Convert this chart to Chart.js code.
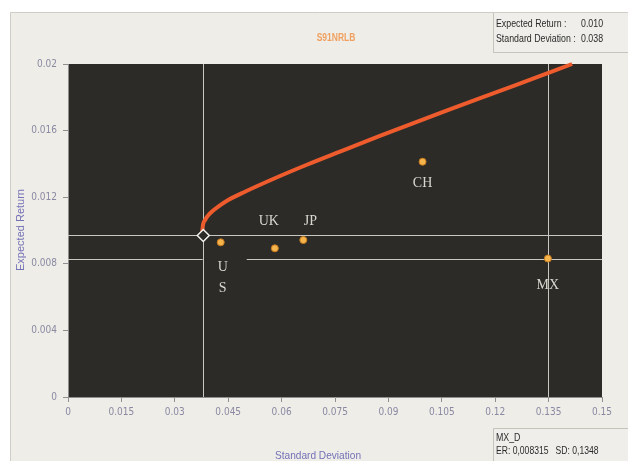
<!DOCTYPE html>
<html>
<head>
<meta charset="utf-8">
<script src="https://cdn.jsdelivr.net/npm/chart.js@4/dist/chart.umd.min.js"></script>
<style>
  html, body { margin: 0; padding: 0; background: #ffffff; }
  #wrap { width: 628px; height: 461px; }
</style>
</head>
<body>
<div id="wrap"><canvas id="c" width="628" height="461"></canvas></div>
<script>
// Efficient frontier (standard deviation vs expected return)
const frontierSD = [0.0377, 0.0378, 0.0385, 0.0399, 0.0422, 0.0450, 0.0497, 0.0581, 0.0671, 0.0764, 0.0876, 0.1065, 0.1250, 0.1416];
const frontierER = [0.00973, 0.01013, 0.01063, 0.01103, 0.01143, 0.01183, 0.01233, 0.01314, 0.01395, 0.01474, 0.01568, 0.01721, 0.01867, 0.0200];

// Individual markets
const countries = ['US', 'UK', 'JP', 'CH', 'MX'];
const countrySD = [0.0429, 0.0581, 0.0661, 0.0996, 0.1348];
const countryER = [0.00929, 0.00893, 0.00943, 0.01413, 0.008315];

// Selected portfolio on the frontier
const selectedSD = [0.038];
const selectedER = [0.0097];

// Selected series readout
const pickedName = 'MX_D';
const pickedIndex = 4;

// Axis ticks
const xTickValues = [0, 0.015, 0.03, 0.045, 0.06, 0.075, 0.09, 0.105, 0.12, 0.135, 0.15];
const xTickLabels = ['0', '0.015', '0.03', '0.045', '0.06', '0.075', '0.09', '0.105', '0.12', '0.135', '0.15'];
const yTickValues = [0, 0.004, 0.008, 0.012, 0.016, 0.02];
const yTickLabels = ['0', '0.004', '0.008', '0.012', '0.016', '0.02'];

const chartTitle = 'S91NRLB';

const PLOT_BG = '#2c2b27';
const CROSS = '#c9c8c0';
const tickFont = "'DejaVu Sans Condensed', 'Liberation Sans', sans-serif";
const uiFont = "'Liberation Sans', 'DejaVu Sans', sans-serif";

// label placement around each market point (pixels)
const labelOffsets = {
  US: { lines: [[2, 25], [2, 46]], backdrop: [-18, 12, 44, 43] },
  UK: { lines: [[-6, -27]] },
  JP: { lines: [[7, -19]] },
  CH: { lines: [[0, 22]] },
  MX: { lines: [[0, 27]] }
};

const pts = (xs, ys) => xs.map((x, i) => ({ x: x, y: ys[i] }));

// narrow text drawn by squeezing a regular face horizontally
function narrowText(ctx, text, x, y, sx) {
  ctx.save();
  ctx.translate(x, y);
  ctx.scale(sx, 1);
  ctx.fillText(text, 0, 0);
  ctx.restore();
}

const panelPlugin = {
  id: 'panel',
  beforeDraw(chart) {
    const ctx = chart.ctx;
    const a = chart.chartArea;
    ctx.save();
    ctx.fillStyle = '#ffffff';
    ctx.fillRect(0, 0, chart.width, chart.height);
    ctx.fillStyle = '#eeede8';
    ctx.fillRect(10, 12, chart.width - 10, chart.height - 12);
    ctx.strokeStyle = '#cfcec6';
    ctx.lineWidth = 1;
    ctx.beginPath();
    ctx.moveTo(10.5, chart.height);
    ctx.lineTo(10.5, 12.5);
    ctx.lineTo(chart.width, 12.5);
    ctx.stroke();
    // plot background
    ctx.fillStyle = PLOT_BG;
    ctx.fillRect(a.left, a.top, a.right - a.left, a.bottom - a.top);
    ctx.restore();
  },
  afterDraw(chart) {
    const ctx = chart.ctx;
    const a = chart.chartArea;
    ctx.save();
    // title
    ctx.fillStyle = '#f0a060';
    ctx.font = "bold 10px " + uiFont;
    ctx.textAlign = 'center';
    ctx.textBaseline = 'middle';
    narrowText(ctx, chartTitle, (a.left + a.right) / 2 + 1, 38, 0.85);
    // axis titles
    ctx.fillStyle = '#7472b6';
    ctx.font = "11px 'Liberation Sans', sans-serif";
    narrowText(ctx, 'Standard Deviation', 318, 456, 0.92);
    ctx.save();
    ctx.translate(21, 230);
    ctx.rotate(-Math.PI / 2);
    ctx.fillText('Expected Return', 0, 0);
    ctx.restore();

    // readout of the selected frontier portfolio
    ctx.fillStyle = '#efeeea';
    ctx.fillRect(493, 13, 135, 39);
    ctx.strokeStyle = '#c4c3bc';
    ctx.beginPath();
    ctx.moveTo(493.5, 13);
    ctx.lineTo(493.5, 52.5);
    ctx.lineTo(628, 52.5);
    ctx.stroke();
    ctx.fillStyle = '#2a2a2a';
    ctx.font = "11px " + uiFont;
    ctx.textAlign = 'left';
    narrowText(ctx, 'Expected Return :', 496, 24, 0.8);
    narrowText(ctx, 'Standard Deviation :', 496, 39, 0.8);
    narrowText(ctx, selectedER[0].toFixed(3), 581, 24, 0.8);
    narrowText(ctx, selectedSD[0].toFixed(3), 581, 39, 0.8);

    // readout of the picked market
    ctx.fillStyle = '#efeeea';
    ctx.fillRect(493, 428, 135, 33);
    ctx.strokeStyle = '#c4c3bc';
    ctx.beginPath();
    ctx.moveTo(493.5, 461);
    ctx.lineTo(493.5, 428.5);
    ctx.lineTo(628, 428.5);
    ctx.stroke();
    ctx.fillStyle = '#2a2a2a';
    const er = String(countryER[pickedIndex]).replace('.', ',');
    const sd = String(countrySD[pickedIndex]).replace('.', ',');
    narrowText(ctx, pickedName, 496, 438, 0.8);
    narrowText(ctx, 'ER: ' + er + '   SD: ' + sd, 496, 451, 0.78);
    ctx.restore();
  }
};

const crossPlugin = {
  id: 'cross',
  beforeDatasetsDraw(chart) {
    const ctx = chart.ctx;
    const a = chart.chartArea;
    const xs = chart.scales.x, ys = chart.scales.y;
    const hLines = [ys.getPixelForValue(selectedER[0]), ys.getPixelForValue(countryER[pickedIndex])];
    const vLines = [xs.getPixelForValue(selectedSD[0]), xs.getPixelForValue(countrySD[pickedIndex])];
    ctx.save();
    ctx.strokeStyle = CROSS;
    ctx.lineWidth = 1;
    hLines.forEach(y => {
      const yy = Math.round(y) + 0.5;
      ctx.beginPath();
      ctx.moveTo(a.left, yy);
      ctx.lineTo(a.right, yy);
      ctx.stroke();
    });
    // label backdrops
    ctx.fillStyle = PLOT_BG;
    countries.forEach((c, i) => {
      const o = labelOffsets[c];
      if (!o.backdrop) return;
      const px = xs.getPixelForValue(countrySD[i]);
      const py = ys.getPixelForValue(countryER[i]);
      ctx.fillRect(px + o.backdrop[0], py + o.backdrop[1], o.backdrop[2], o.backdrop[3]);
    });
    vLines.forEach(x => {
      const xx = Math.round(x) + 0.5;
      ctx.beginPath();
      ctx.moveTo(xx, a.top);
      ctx.lineTo(xx, a.bottom);
      ctx.stroke();
    });
    ctx.restore();
  },
  afterDatasetsDraw(chart) {
    const ctx = chart.ctx;
    const xs = chart.scales.x, ys = chart.scales.y;
    ctx.save();
    ctx.fillStyle = '#d9d8d0';
    ctx.font = "14px 'Liberation Serif', 'DejaVu Serif', serif";
    ctx.textAlign = 'center';
    ctx.textBaseline = 'middle';
    countries.forEach((c, i) => {
      const px = xs.getPixelForValue(countrySD[i]);
      const py = ys.getPixelForValue(countryER[i]);
      const o = labelOffsets[c];
      if (o.lines.length === 1) {
        ctx.fillText(c, px + o.lines[0][0], py + o.lines[0][1]);
      } else {
        c.split('').forEach((ch, k) => ctx.fillText(ch, px + o.lines[k][0], py + o.lines[k][1]));
      }
    });
    ctx.restore();
  }
};

new Chart(document.getElementById('c'), {
  type: 'scatter',
  data: {
    datasets: [
      {
        type: 'line',
        label: 'Frontier',
        data: pts(frontierSD, frontierER),
        borderColor: '#ee5b2d',
        borderWidth: 4,
        pointRadius: 0,
        cubicInterpolationMode: 'monotone',
        fill: false,
        clip: 6,
        order: 3
      },
      {
        label: 'Markets',
        data: pts(countrySD, countryER),
        backgroundColor: '#f6b44c',
        borderColor: '#c77a1e',
        borderWidth: 1,
        pointRadius: 3.5,
        order: 2
      },
      {
        label: 'Selected',
        data: pts(selectedSD, selectedER),
        pointStyle: 'rectRot',
        backgroundColor: PLOT_BG,
        borderColor: '#f2f2ee',
        borderWidth: 1.5,
        pointRadius: 6,
        order: 1
      }
    ]
  },
  options: {
    responsive: false,
    animation: false,
    events: [],
    layout: { padding: { left: 0, right: 26, top: 64, bottom: 0 } },
    plugins: { legend: { display: false }, tooltip: { enabled: false }, title: { display: false } },
    scales: {
      x: {
        type: 'linear',
        min: 0,
        max: 0.15,
        afterBuildTicks: s => { s.ticks = xTickValues.map(v => ({ value: v })); },
        afterFit: s => { s.height = 64; },
        ticks: {
          autoSkip: false,
          maxRotation: 0,
          padding: 4,
          color: '#8a89a2',
          font: { size: 10, family: tickFont },
          callback: (v, i) => xTickLabels[i]
        },
        grid: { drawOnChartArea: false, drawTicks: true, tickLength: 5, color: '#8f8f8f' },
        border: { display: true, color: '#8f8f8f' }
      },
      y: {
        type: 'linear',
        min: 0,
        max: 0.02,
        afterBuildTicks: s => { s.ticks = yTickValues.map(v => ({ value: v })); },
        afterFit: s => { s.width = 68; },
        ticks: {
          autoSkip: false,
          padding: 6,
          color: '#8a89a2',
          font: { size: 10, family: tickFont },
          callback: (v, i) => yTickLabels[i]
        },
        grid: { drawOnChartArea: false, drawTicks: true, tickLength: 5, color: '#8f8f8f' },
        border: { display: true, color: '#8f8f8f' }
      }
    }
  },
  plugins: [panelPlugin, crossPlugin]
});
</script>
</body>
</html>
